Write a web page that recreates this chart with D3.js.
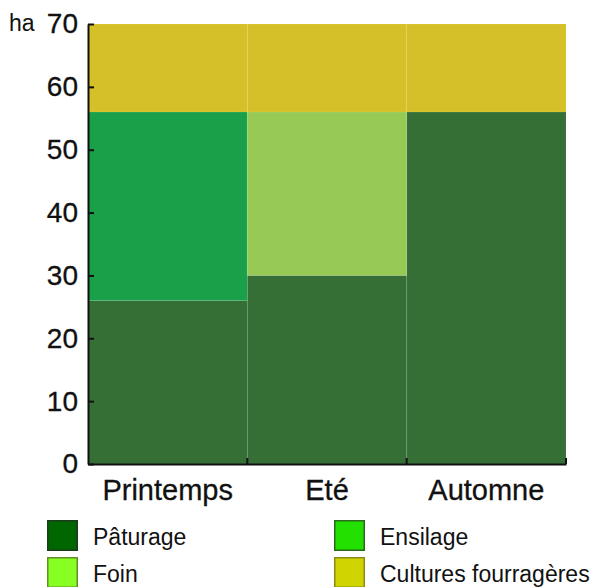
<!DOCTYPE html>
<html>
<head>
<meta charset="utf-8">
<script src="https://cdn.jsdelivr.net/npm/d3@7"></script>
<style>
  html, body { margin: 0; padding: 0; background: #fff; }
  svg { display: block; font-family: "Liberation Sans", Arial, sans-serif; }
</style>
</head>
<body>
<svg id="chart" width="602" height="587"></svg>
<script>
const categories = ["Printemps", "Eté", "Automne"];
const paturage = [26, 30, 56];
const ensilage = [30, 0, 0];
const foin = [0, 26, 0];
const cultures = [14, 14, 14];
const seriesNames = ["Pâturage", "Ensilage", "Foin", "Cultures fourragères"];
const yTicks = [0, 10, 20, 30, 40, 50, 60, 70];
const unitLabel = "ha";

const barColors = ["#356f36", "#19a049", "#96ca55", "#d6c029"];
const legendColors = ["#006600", "#22e000", "#88ff22", "#d0d400"];
const legendStroke = ["#1c3a1c", "#2b6a1c", "#5f8f22", "#8a8a18"];

const svg = d3.select("#chart");
const x = d3.scaleBand().domain(categories).range([88, 566]).padding(0);
const y = d3.scaleLinear().domain([0, 70]).range([464, 24]);

const table = categories.map((c, i) => ({
  cat: c,
  "Pâturage": paturage[i],
  "Ensilage": ensilage[i],
  "Foin": foin[i],
  "Cultures fourragères": cultures[i]
}));
const stacked = d3.stack().keys(seriesNames)(table);

svg.append("g").selectAll("g")
  .data(stacked)
  .join("g")
  .attr("fill", (d, i) => barColors[i])
  .selectAll("rect")
  .data(d => d.filter(p => p[1] - p[0] > 0))
  .join("rect")
  .attr("x", d => x(d.data.cat))
  .attr("width", x.bandwidth())
  .attr("y", d => y(d[1]))
  .attr("height", d => y(d[0]) - y(d[1]))
  .attr("stroke", "rgba(255,255,255,0.07)")
  .attr("stroke-width", 1);

// Y axis
const yAxis = svg.append("g")
  .attr("transform", "translate(88,0)")
  .call(d3.axisLeft(y).tickValues(yTicks).tickSizeInner(-6).tickSizeOuter(0).tickPadding(10));
yAxis.select(".domain").attr("stroke", "#111").attr("stroke-width", 2);
yAxis.selectAll(".tick line").attr("stroke", "#111").attr("stroke-width", 2);
yAxis.selectAll(".tick text").attr("font-size", 28).attr("fill", "#111")
  .attr("stroke", "#111").attr("stroke-width", 0.3)
  .attr("font-family", "'Liberation Sans', Arial, sans-serif");

// X axis
const xAxis = svg.append("g")
  .attr("transform", "translate(0,464)")
  .call(d3.axisBottom(x).tickSize(0).tickPadding(15));
xAxis.select(".domain").attr("stroke", "#111").attr("stroke-width", 2);
xAxis.selectAll(".tick text").attr("font-size", 29).attr("fill", "#111")
  .attr("stroke", "#111").attr("stroke-width", 0.3)
  .attr("font-family", "'Liberation Sans', Arial, sans-serif");
xAxis.selectAll("line.edge")
  .data(categories)
  .join("line")
  .attr("class", "edge")
  .attr("x1", d => x(d) + x.bandwidth())
  .attr("x2", d => x(d) + x.bandwidth())
  .attr("y1", 0).attr("y2", -6)
  .attr("stroke", "#111").attr("stroke-width", 2);

// unit label
svg.append("text")
  .attr("x", 9).attr("y", 31)
  .attr("font-size", 23).attr("fill", "#111")
  .text(unitLabel);

// Legend
const legendPos = [[47, 520], [334, 520], [47, 557], [334, 557]];
const legendOrder = [0, 1, 2, 3];
const lg = svg.append("g").selectAll("g")
  .data(legendOrder)
  .join("g")
  .attr("transform", (d, i) => `translate(${legendPos[i][0]},${legendPos[i][1]})`);
lg.append("rect")
  .attr("x", 0.75).attr("y", 0.75)
  .attr("width", 29.5).attr("height", 29.5)
  .attr("fill", d => legendColors[d])
  .attr("stroke", d => legendStroke[d])
  .attr("stroke-width", 1.5);
lg.append("text")
  .attr("x", 46).attr("y", 25)
  .attr("font-size", 23).attr("fill", "#111")
  .text(d => seriesNames[d]);
</script>
</body>
</html>
